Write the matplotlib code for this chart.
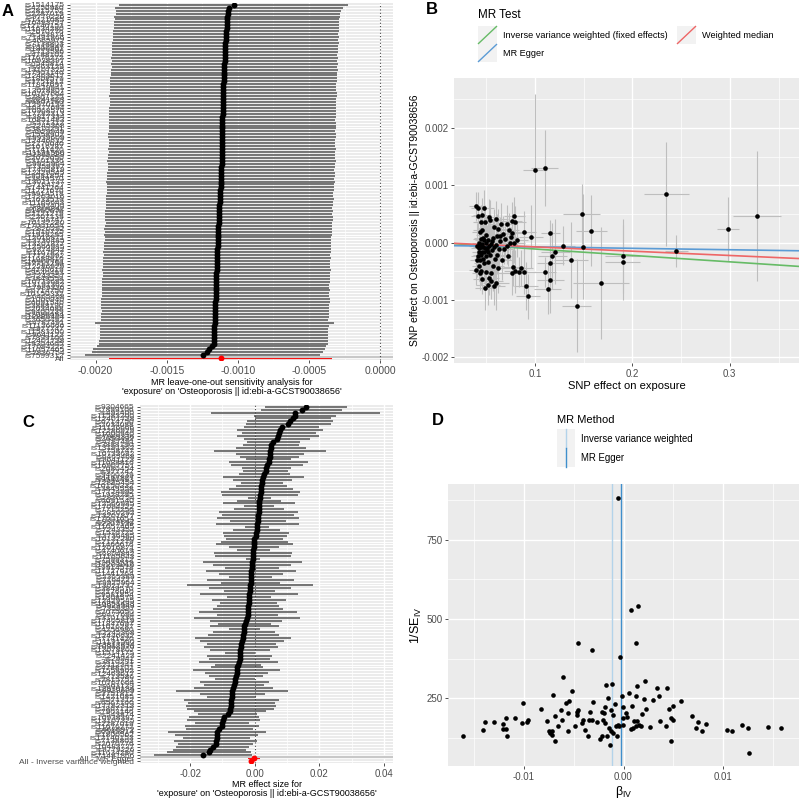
import numpy as np
import matplotlib
matplotlib.use('Agg')
import matplotlib.pyplot as plt
from matplotlib.lines import Line2D
from matplotlib.patches import Rectangle

plt.rcParams['font.family'] = ['Liberation Sans', 'DejaVu Sans']
plt.rcParams['mathtext.fontset'] = 'custom'
plt.rcParams['mathtext.rm'] = 'Liberation Sans'
plt.rcParams['mathtext.it'] = 'Liberation Sans:italic'

# SNP ids
snps = np.array([
    'rs71481866', 'rs11634280', 'rs9779226', 'rs10483727', 'rs2070776', 'rs7138803', 'rs12140153', 'rs1800562', 'rs6545814', 'rs4665972',
    'rs11676272', 'rs2287019', 'rs13107325', 'rs10938397', 'rs543874', 'rs7903146', 'rs2867125', 'rs17782313', 'rs6567160', 'rs571312',
    'rs1421085', 'rs3751812', 'rs9939609', 'rs12970134', 'rs663129', 'rs10767664', 'rs2815752', 'rs713586', 'rs12463617', 'rs1558902',
    'rs4788102', 'rs2112347', 'rs3810291', 'rs29941', 'rs2241423', 'rs1514175', 'rs13078807', 'rs10968576', 'rs3817334', 'rs7141420',
    'rs12446632', 'rs2245368', 'rs4256980', 'rs1016287', 'rs11847697', 'rs3101336', 'rs6477694', 'rs2075650', 'rs7359397', 'rs4929949',
    'rs16851483', 'rs12429545', 'rs1808579', 'rs9581854', 'rs2176040', 'rs3849570', 'rs13021737', 'rs9925964', 'rs7164727', 'rs2365389',
    'rs1441264', 'rs11727676', 'rs9914578', 'rs17203016', 'rs2033529', 'rs7599312', 'rs11165643', 'rs6804842', 'rs4740619', 'rs12016871',
    'rs10132280', 'rs2121279', 'rs1460676', 'rs3736485', 'rs7243357', 'rs2207139', 'rs11057405', 'rs9374842', 'rs17001654', 'rs13201877',
    'rs2820292', 'rs17094222', 'rs7715256', 'rs6091540', 'rs2836754', 'rs12566985', 'rs1928295', 'rs17724992', 'rs10150332', 'rs12885454',
    'rs9540493', 'rs1167827', 'rs9400239', 'rs977747', 'rs2080454', 'rs16907751', 'rs11688816', 'rs9641123', 'rs6465468', 'rs10733682',
    'rs758747', 'rs13191362', 'rs3888190', 'rs4787491', 'rs2650492', 'rs7989336', 'rs1000940', 'rs12286929', 'rs11126666', 'rs2034088',
    'rs6714750', 'rs12401738', 'rs11583200', 'rs492400', 'rs7899106', 'rs9304665', 'rs17405819', 'rs1516725', 'rs11191560', 'rs3849558'])

# Wald ratio per SNP (x 1e-3)
beta_iv = np.array([
    -16.1, -14.1, -13.9, -13.0, -12.1, -12.1, -11.8, -11.8, -11.7, -10.9,
    -10.2, -10.1, -9.7, -9.6, -8.3, -7.7, -7.5, -7.4, -7.2, -7.2,
    -7.1, -6.9, -6.9, -6.6, -6.3, -6.2, -6.1, -5.8, -5.6, -5.6,
    -5.5, -5.2, -4.9, -4.7, -4.7, -4.6, -4.6, -4.2, -4.1, -3.6,
    -3.5, -3.4, -3.2, -3.2, -3.1, -2.4, -2.2, -2.2, -2.1, -2.0,
    -1.9, -1.9, -1.8, -1.7, -1.6, -1.5, -1.4, -1.3, -1.3, -1.2,
    -1.1, -1.1, -0.9, -0.8, -0.7, -0.6, -0.6, -0.5, -0.4, -0.2,
    -0.1, -0.1, -0.1, 0.3, 0.6, 0.8, 0.8, 0.9, 1.0, 1.1,
    1.3, 1.3, 1.3, 1.4, 1.5, 1.4, 1.6, 1.8, 2.1, 2.2,
    2.3, 2.7, 3.0, 3.4, 3.6, 3.7, 4.3, 4.4, 4.6, 4.8,
    4.8, 5.0, 5.0, 5.8, 6.9, 7.3, 7.5, 7.9, 8.3, 10.4,
    10.9, 11.9, 12.5, 12.6, 14.5, 15.8, -2.7, 0.4, -3.9, 1.9]) * 1e-3

# 1 / SE of the Wald ratio
inv_se = np.array([
    129, 150, 173, 173, 169, 152, 187, 152, 129, 187,
    171, 234, 173, 180, 215, 176, 145, 140, 145, 134,
    260, 194, 113, 160, 211, 182, 316, 234, 203, 145,
    242, 271, 160, 205, 197, 423, 213, 171, 182, 131,
    180, 205, 402, 182, 239, 119, 207, 129, 180, 203,
    222, 171, 292, 129, 250, 155, 101, 213, 145, 295,
    197, 140, 232, 163, 129, 884, 166, 163, 381, 257,
    222, 187, 166, 203, 266, 152, 528, 226, 155, 176,
    160, 423, 255, 289, 541, 176, 166, 160, 247, 305,
    215, 158, 245, 282, 258, 176, 160, 282, 215, 187,
    113, 182, 226, 240, 192, 155, 173, 147, 169, 150,
    147, 166, 155, 75, 158, 155, 175, 190, 150, 200])

# SNP effect on exposure and its SE
bx = np.array([
    0.049, 0.052, 0.046, 0.058, 0.055, 0.044, 0.053, 0.040, 0.060, 0.045,
    0.050, 0.093, 0.043, 0.055, 0.091, 0.143, 0.048, 0.041, 0.062, 0.057,
    0.113, 0.076, 0.044, 0.052, 0.080, 0.047, 0.084, 0.089, 0.116, 0.042,
    0.078, 0.086, 0.059, 0.045, 0.066, 0.110, 0.050, 0.168, 0.054, 0.046,
    0.061, 0.048, 0.072, 0.052, 0.116, 0.043, 0.137, 0.056, 0.049, 0.118,
    0.063, 0.045, 0.190, 0.051, 0.068, 0.047, 0.041, 0.121, 0.058, 0.190,
    0.053, 0.044, 0.071, 0.060, 0.046, 0.245, 0.055, 0.149, 0.129, 0.074,
    0.079, 0.050, 0.043, 0.064, 0.082, 0.048, 0.298, 0.069, 0.052, 0.096,
    0.045, 0.075, 0.158, 0.328, 0.116, 0.057, 0.047, 0.061, 0.089, 0.077,
    0.067, 0.050, 0.073, 0.148, 0.235, 0.062, 0.044, 0.080, 0.071, 0.058,
    0.046, 0.065, 0.076, 0.079, 0.060, 0.054, 0.049, 0.045, 0.053, 0.046,
    0.042, 0.110, 0.048, 0.100, 0.042, 0.040, 0.051, 0.056, 0.043, 0.064])

bx_se = np.array([
    0.010, 0.012, 0.009, 0.011, 0.012, 0.009, 0.010, 0.008, 0.013, 0.009,
    0.010, 0.012, 0.008, 0.011, 0.012, 0.015, 0.010, 0.008, 0.012, 0.011,
    0.014, 0.011, 0.009, 0.010, 0.012, 0.009, 0.010, 0.012, 0.014, 0.008,
    0.011, 0.012, 0.011, 0.009, 0.011, 0.012, 0.010, 0.029, 0.010, 0.009,
    0.012, 0.009, 0.008, 0.010, 0.014, 0.009, 0.017, 0.011, 0.010, 0.015,
    0.010, 0.009, 0.018, 0.010, 0.010, 0.009, 0.009, 0.015, 0.011, 0.018,
    0.010, 0.009, 0.011, 0.012, 0.009, 0.012, 0.010, 0.018, 0.012, 0.011,
    0.011, 0.010, 0.008, 0.011, 0.011, 0.009, 0.011, 0.011, 0.010, 0.012,
    0.009, 0.008, 0.016, 0.025, 0.010, 0.011, 0.009, 0.012, 0.012, 0.010,
    0.011, 0.010, 0.011, 0.019, 0.023, 0.012, 0.009, 0.011, 0.011, 0.010,
    0.009, 0.011, 0.011, 0.011, 0.012, 0.010, 0.010, 0.009, 0.010, 0.009,
    0.008, 0.014, 0.010, 0.012, 0.008, 0.008, 0.010, 0.011, 0.008, 0.011])

# leave-one-out IVW estimate and SE (x 1e-3 / x 1e-4)
loo_b = np.array([
    -1.085, -1.080, -1.075, -1.078, -1.083, -1.088, -1.079, -1.090, -1.095, -1.087,
    -1.093, -1.070, -1.097, -1.094, -1.085, -1.098, -1.105, -1.108, -1.106, -1.109,
    -1.076, -1.101, -1.112, -1.107, -1.096, -1.104, -1.068, -1.091, -1.099, -1.111,
    -1.092, -1.089, -1.110, -1.103, -1.106, -1.030, -1.104, -1.108, -1.109, -1.113,
    -1.112, -1.110, -1.062, -1.113, -1.102, -1.115, -1.108, -1.114, -1.116, -1.111,
    -1.109, -1.117, -1.100, -1.118, -1.112, -1.119, -1.120, -1.115, -1.121, -1.114,
    -1.122, -1.123, -1.124, -1.126, -1.127, -1.248, -1.129, -1.131, -1.150, -1.140,
    -1.136, -1.133, -1.132, -1.141, -1.152, -1.134, -1.205, -1.144, -1.137, -1.142,
    -1.138, -1.185, -1.149, -1.158, -1.215, -1.143, -1.139, -1.146, -1.156, -1.162,
    -1.151, -1.145, -1.160, -1.166, -1.161, -1.148, -1.147, -1.168, -1.157, -1.153,
    -1.135, -1.154, -1.159, -1.164, -1.163, -1.155, -1.157, -1.150, -1.165, -1.160,
    -1.156, -1.170, -1.167, -1.130, -1.169, -1.171, -1.117, -1.138, -1.114, -1.152]) * 1e-3

loo_se = np.array([
    4.05, 4.04, 4.06, 4.03, 4.05, 4.07, 4.04, 4.06, 4.08, 4.05,
    4.06, 4.02, 4.07, 4.05, 4.04, 4.06, 4.08, 4.07, 4.05, 4.06,
    4.03, 4.06, 4.09, 4.05, 4.04, 4.07, 4.03, 4.05, 4.06, 4.08,
    4.04, 4.05, 4.07, 4.06, 4.05, 4.10, 4.06, 4.08, 4.07, 4.09,
    4.06, 4.07, 4.08, 4.06, 4.05, 4.09, 4.06, 4.08, 4.07, 4.06,
    4.05, 4.08, 4.06, 4.09, 4.05, 4.07, 4.10, 4.06, 4.08, 4.06,
    4.07, 4.08, 4.06, 4.07, 4.09, 4.20, 4.07, 4.06, 4.09, 4.06,
    4.05, 4.07, 4.08, 4.06, 4.07, 4.08, 4.16, 4.06, 4.07, 4.06,
    4.08, 4.12, 4.07, 4.10, 4.15, 4.07, 4.08, 4.06, 4.07, 4.08,
    4.06, 4.08, 4.07, 4.09, 4.10, 4.07, 4.08, 4.09, 4.07, 4.08,
    4.09, 4.07, 4.08, 4.30, 4.08, 4.07, 4.09, 4.08, 4.10, 4.08,
    4.09, 4.11, 4.09, 4.08, 4.10, 4.11, 4.06, 4.07, 4.05, 4.08]) * 1e-4

# overall MR results
ivw_b, ivw_se = -0.00112, 0.00040
egger_b, egger_se, egger_int = -0.00025, 0.00090, -0.00005
wm_b = -0.00075

by = beta_iv * bx
by_se = bx / inv_se
n = len(snps)

exposure_txt = "'exposure' on 'Osteoporosis || id:ebi-a-GCST90038656'"
col_ivw, col_egger, col_wm = '#66bb66', '#5b9bd5', '#ee6666'
col_ivw_d, col_egger_d = '#b3d3ea', '#3f8fcc'

W, H = 800, 801
fig = plt.figure(figsize=(W / 100, H / 100), dpi=100)


def fx(px):
    return px / W


def fy(py):
    return 1 - py / H


def px_axes(l, t, r, b):
    return fig.add_axes([fx(l), fy(b), (r - l) / W, (b - t) / H])


def gg(ax):
    ax.set_facecolor('#EBEBEB')
    for s in ax.spines.values():
        s.set_visible(False)
    ax.tick_params(which='major', colors='#333333', labelcolor='#4D4D4D',
                   length=2.5, width=0.6, labelsize=7, pad=1.5)
    ax.tick_params(which='minor', length=0)
    ax.set_axisbelow(True)
    ax.grid(which='major', color='white', lw=1.0)
    ax.grid(which='minor', color='white', lw=0.5)


# ---------------- A: leave-one-out ----------------
axA = px_axes(70, 3, 393, 360)
gg(axA)
oa = np.argsort(loo_b)
ya = np.arange(2, n + 2)
lb = loo_b[oa]
axA.hlines(ya, lb - 1.96 * loo_se[oa], lb + 1.96 * loo_se[oa], color='#5e5e5e', lw=1.2)
axA.scatter(lb, ya, s=18, color='black', zorder=3, lw=0)
axA.hlines(1, ivw_b - 1.96 * ivw_se, ivw_b + 1.96 * ivw_se, color='red', lw=1.6)
axA.scatter([ivw_b], [1], s=18, color='red', zorder=3, lw=0)
axA.axhline(1.5, color='#c8c8c8', lw=1.6)
axA.axvline(0, color='#444444', ls=(0, (1, 2)), lw=0.8)
axA.set_xlim(-0.00218, 0.00009)
axA.set_ylim(0.4, n + 1.6)
axA.set_xticks([-0.002, -0.0015, -0.001, -0.0005, 0.0])
axA.set_xticklabels(['-0.0020', '-0.0015', '-0.0010', '-0.0005', '0.0000'])
axA.set_xticks([-0.00175, -0.00125, -0.00075, -0.00025], minor=True)
axA.set_yticks(np.arange(1, n + 2))
axA.set_yticklabels(['All'] + list(snps[oa]), fontsize=6)
axA.tick_params(axis='x', labelsize=7.5)
axA.grid(axis='y', which='major', lw=0.7)
axA.set_xlabel('MR leave-one-out sensitivity analysis for\n' + exposure_txt,
               fontsize=6.5, labelpad=1.5, linespacing=1.05)

# ---------------- B: scatter ----------------
axB = px_axes(454, 78, 799, 363)
gg(axB)
axB.errorbar(bx, by, yerr=by_se, xerr=bx_se, fmt='none', ecolor='#bebebe',
             elinewidth=0.8, capsize=0, zorder=2)
axB.scatter(bx, by, s=11, color='black', zorder=4, lw=0)
xl = np.array([0.017, 0.371])
axB.plot(xl, ivw_b * xl, color=col_ivw, lw=1.2, zorder=3)
axB.plot(xl, egger_int + egger_b * xl, color=col_egger, lw=1.2, zorder=3)
axB.plot(xl, wm_b * xl, color=col_wm, lw=1.2, zorder=3)
axB.set_xlim(0.017, 0.371)
axB.set_ylim(-0.0021, 0.00287)
axB.set_xticks([0.1, 0.2, 0.3])
axB.set_xticks([0.05, 0.15, 0.25, 0.35], minor=True)
axB.set_yticks([-0.002, -0.001, 0.0, 0.001, 0.002])
axB.set_yticklabels(['-0.002', '-0.001', '0.000', '0.001', '0.002'])
axB.set_yticks([-0.0015, -0.0005, 0.0005, 0.0015, 0.0025], minor=True)
axB.set_xlabel('SNP effect on exposure', fontsize=8, labelpad=2)
axB.set_ylabel('SNP effect on Osteoporosis || id:ebi-a-GCST90038656', fontsize=7.5, labelpad=1)

# legend B
fig.text(fx(478), fy(15), 'MR Test', fontsize=8.4, va='center', ha='left')
for (kx, ky, col, lab) in [(478, 26, col_ivw, 'Inverse variance weighted (fixed effects)'),
                           (677, 26, col_wm, 'Weighted median'),
                           (478, 44, col_egger, 'MR Egger')]:
    fig.add_artist(Rectangle((fx(kx), fy(ky + 18)), 19 / W, 18 / H,
                             transform=fig.transFigure, fc='#F2F2F2', ec='none'))
    fig.add_artist(Line2D([fx(kx + 0.5), fx(kx + 18.5)], [fy(ky + 17.5), fy(ky + 0.5)],
                          color=col, lw=1.0, transform=fig.transFigure))
    fig.text(fx(kx + 25), fy(ky + 9.5), lab, fontsize=6.6, va='center', ha='left')

# ---------------- C: forest ----------------
axC = px_axes(140, 405, 393, 763)
gg(axC)
oc = np.argsort(beta_iv)
yc = np.arange(3, n + 3)
bc = beta_iv[oc]
hc = 1.96 / inv_se[oc]
axC.hlines(yc, bc - hc, bc + hc, color='#5e5e5e', lw=1.2)
axC.scatter(bc, yc, s=18, color='black', zorder=3, lw=0)
axC.hlines([1, 2], [ivw_b - 1.96 * ivw_se, egger_b - 1.96 * egger_se],
           [ivw_b + 1.96 * ivw_se, egger_b + 1.96 * egger_se], color='red', lw=1.6)
axC.scatter([ivw_b, egger_b], [1, 2], s=18, color='red', zorder=3, lw=0)
axC.axhline(2.5, color='#c8c8c8', lw=1.6)
axC.axvline(0, color='#444444', ls=(0, (1, 2)), lw=0.8)
axC.set_xlim(-0.0355, 0.0428)
axC.set_ylim(0.4, n + 2.6)
axC.set_xticks([-0.02, 0.0, 0.02, 0.04])
axC.set_xticklabels(['-0.02', '0.00', '0.02', '0.04'])
axC.set_xticks([-0.03, -0.01, 0.01, 0.03], minor=True)
axC.set_yticks(np.arange(1, n + 3))
axC.set_yticklabels(['All - Inverse variance weighted', 'All - MR Egger'] + list(snps[oc]), fontsize=6)
axC.grid(axis='y', which='major', lw=0.7)
axC.set_xlabel('MR effect size for\n' + exposure_txt, fontsize=6.5, labelpad=1, linespacing=1.0)

# ---------------- D: funnel ----------------
axD = px_axes(448, 484, 799, 766)
gg(axD)
axD.axvline(ivw_b, color=col_ivw_d, lw=1.0, zorder=2)
axD.axvline(egger_b, color=col_egger_d, lw=1.0, zorder=2)
axD.scatter(beta_iv, inv_se, s=11, color='black', zorder=3, lw=0)
axD.set_xlim(-0.0176, 0.0176)
axD.set_ylim(35, 927)
axD.set_xticks([-0.01, 0.0, 0.01])
axD.set_xticklabels(['-0.01', '0.00', '0.01'])
axD.set_xticks([-0.015, -0.005, 0.005, 0.015], minor=True)
axD.set_yticks([250, 500, 750])
axD.set_yticks([125, 375, 625, 875], minor=True)
axD.set_xlabel('β' + r'$_{\mathrm{IV}}$', fontsize=9, labelpad=2)
axD.set_ylabel(r'$1/\mathrm{SE}_{\mathrm{IV}}$', fontsize=9, labelpad=2)

# legend D
fig.text(fx(557), fy(420), 'MR Method', fontsize=8, va='center', ha='left')
for (ky, col, lab) in [(429, col_ivw_d, 'Inverse variance weighted'),
                       (448, col_egger_d, 'MR Egger')]:
    fig.add_artist(Rectangle((fx(557), fy(ky + 19)), 18 / W, 19 / H,
                             transform=fig.transFigure, fc='#F2F2F2', ec='none'))
    fig.add_artist(Line2D([fx(566), fx(566)], [fy(ky + 19), fy(ky)],
                          color=col, lw=1.0, transform=fig.transFigure))
    fig.text(fx(581), fy(ky + 10), lab, fontsize=6.9, va='center', ha='left')

# panel letters
for (lx, ly, t) in [(8, 12, 'A'), (432, 10, 'B'), (28, 423, 'C'), (438, 421, 'D')]:
    fig.text(fx(lx), fy(ly), t, fontsize=12, fontweight='bold', ha='center', va='center')

fig.savefig('out.png', dpi=100)
